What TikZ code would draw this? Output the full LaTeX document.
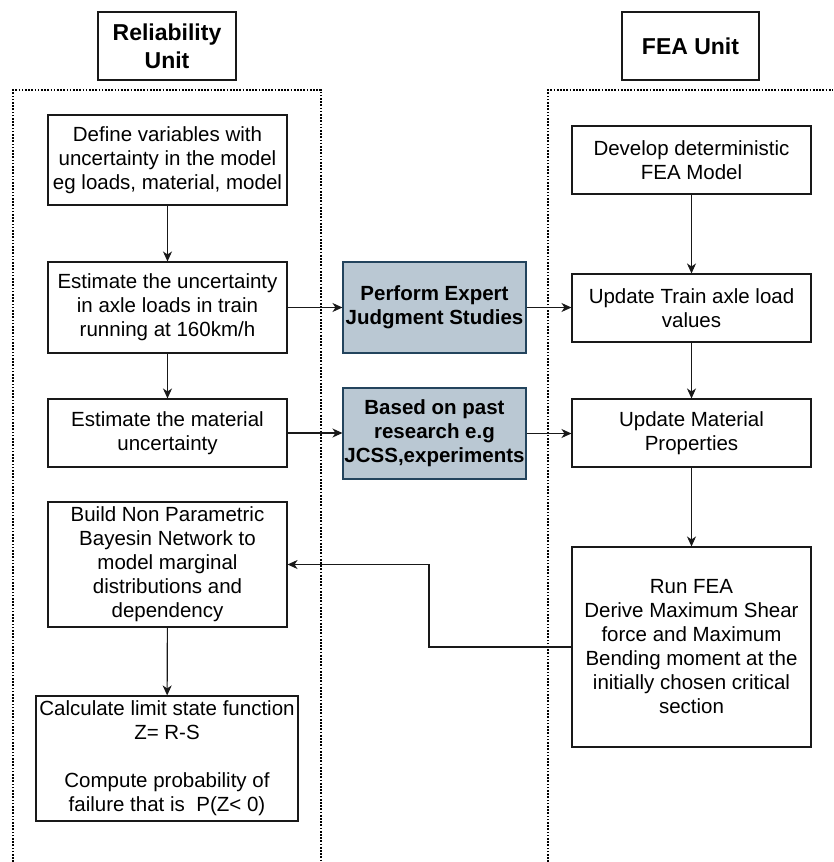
\documentclass[tikz,border=0pt]{standalone}
\usepackage{fontspec}
\setmainfont{Liberation Sans}
\usetikzlibrary{arrows.meta}
\definecolor{greyfill}{HTML}{BAC8D3}
\definecolor{greyline}{HTML}{23445D}
\begin{document}
\begin{tikzpicture}[x=1pt,y=-1pt,
  box/.style={draw=black!90,line width=1.1pt,fill=white,align=center,inner sep=0pt,
    font=\fontsize{20.5}{24}\selectfont},
  greybox/.style={box,fill=greyfill,draw=greyline,font=\fontsize{20.5}{24}\selectfont\bfseries},
  titlebox/.style={box,font=\fontsize{23}{28}\selectfont\bfseries},
  arr/.style={-{Stealth[length=10pt,width=9pt,inset=3pt]},line width=1.1pt,draw=black!90},
  container/.style={line width=1.7pt,dash pattern=on 1.7pt off 1.5pt}]
\useasboundingbox (0,0) rectangle (833,862);
% containers
\draw[container] (13,862) -- (13,90) -- (321,90) -- (321,862);
\draw[container] (548,862) -- (548,90) -- (833,90);
% titles
\node[titlebox,minimum width=138pt,minimum height=68pt] (t1) at (167,46) {Reliability\\Unit};
\node[titlebox,minimum width=137pt,minimum height=68pt] (t2) at (690.5,46) {FEA Unit};
% left column
\node[box,minimum width=239pt,minimum height=90pt] (b1) at (167.5,160) {Define variables with\\uncertainty in the model\\eg loads, material, model};
\node[box,minimum width=239pt,minimum height=91pt] (b2) at (167.5,307.5) {Estimate the uncertainty\\in axle loads in train\\running at 160km/h};
\node[box,minimum width=239pt,minimum height=68pt] (b3) at (167.5,433) {Estimate the material\\uncertainty};
\node[box,minimum width=239pt,minimum height=125pt] (b4) at (167.5,564.5) {Build Non Parametric\\Bayesin Network to\\model marginal\\distributions and\\dependency};
\node[box,minimum width=262pt,minimum height=125pt] (b5) at (167,758.5) {Calculate limit state function\\Z= R-S\\[24pt]Compute probability of\\failure that is\ \ P(Z< 0)};
% middle
\node[greybox,minimum width=183pt,minimum height=91pt] (g1) at (434.5,307.5) {Perform Expert\\Judgment Studies};
\node[greybox,minimum width=183pt,minimum height=91pt] (g2) at (434.5,433.5) {Based on past\\research e.g\\JCSS,experiments};
% right column
\node[box,minimum width=239pt,minimum height=68pt] (r1) at (691.5,160) {Develop deterministic\\FEA Model};
\node[box,minimum width=239pt,minimum height=68pt] (r2) at (691.5,308) {Update Train axle load\\values};
\node[box,minimum width=239pt,minimum height=68pt] (r3) at (691.5,433) {Update Material\\Properties};
\node[box,minimum width=239pt,minimum height=200pt] (r4) at (691.5,647) {Run FEA\\Derive Maximum Shear\\force and Maximum\\Bending moment at the\\initially chosen critical\\section};
% connectors
\draw[arr] (b1) -- (b2);
\draw[arr] (b2) -- (b3);
\draw[arr] (b4) -- (b5);
\draw[arr] (r1) -- (r2);
\draw[arr] (r2) -- (r3);
\draw[arr] (r3) -- (r4);
\draw[arr] (b2.east) -- (g1.west);
\draw[arr] (g1.east) -- (r2.west |- g1.east);
\draw[arr] (b3.east) -- (g2.west |- b3.east);
\draw[arr] (g2.east) -- (r3.west |- g2.east);
\coordinate (k) at (429,647);
\draw[arr] (r4.west) -- (k) |- (b4.east);
\end{tikzpicture}
\end{document}
